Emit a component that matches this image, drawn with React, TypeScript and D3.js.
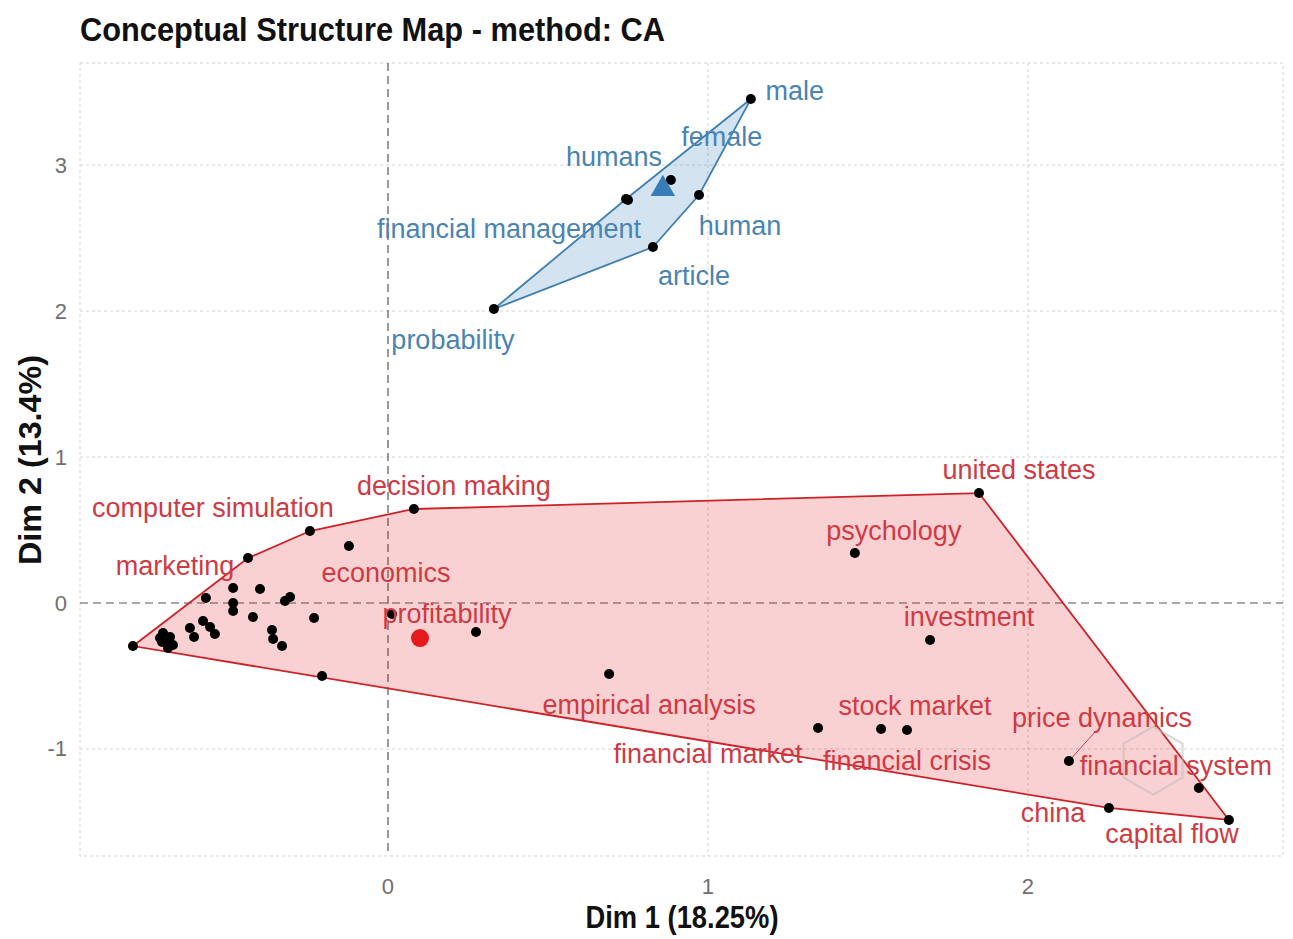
import React from "react";
import * as d3 from "d3";

// ---- data ----
const blueWords = ["male", "female", "humans", "financial management", "human", "article", "probability"];
const blueX = [1.134, 0.884, 0.744, 0.75, 0.972, 0.828, 0.331];
const blueY = [3.452, 2.897, 2.767, 2.76, 2.795, 2.438, 2.014];
const blueCentroid = [0.859, 2.836];

const redWords = [
  "united states", "psychology", "investment", "stock market", "financial crisis",
  "financial market", "empirical analysis", "price dynamics", "financial system",
  "china", "capital flow", "decision making", "computer simulation", "marketing",
  "economics", "profitability",
];
const redX = [1.847, 1.459, 1.694, 1.541, 1.622, 1.344, 0.691, 2.128, 2.534, 2.253, 2.628, 0.081, -0.244, -0.4375, -0.122, 0.0125];
const redY = [0.753, 0.342, -0.253, -0.863, -0.870, -0.856, -0.486, -1.082, -1.267, -1.404, -1.486, 0.644, 0.493, 0.308, 0.390, -0.075];

// unlabeled points of the red cluster
const redExtraX = [0.275, -0.206, -0.797, -0.484, -0.4, -0.569, -0.484, -0.484, -0.322, -0.306, -0.422, -0.231, -0.578, -0.556, -0.541, -0.619, -0.606, -0.3625, -0.359, -0.331, -0.703, -0.7125, -0.681, -0.691, -0.672, -0.6875, -0.706];
const redExtraY = [-0.199, -0.500, -0.295, 0.103, 0.096, 0.034, 0.0, -0.055, 0.014, 0.041, -0.096, -0.103, -0.123, -0.164, -0.212, -0.171, -0.233, -0.185, -0.247, -0.295, -0.205, -0.240, -0.233, -0.274, -0.288, -0.308, -0.267];
const redCentroid = [0.1, -0.24];

const xTicks = [0, 1, 2];
const yTicks = [-1, 0, 1, 2, 3];

const titleText = "Conceptual Structure Map - method: CA";
const xLabel = "Dim 1 (18.25%)";
const yLabel = "Dim 2 (13.4%)";

// label offsets in pixels (repel layout)
const blueLabelOffsets: [number, number][] = [[44, -8], [51, -43], [-12, -42], [-119, 29], [41, 31], [41, 29], [-41, 31]];
const redLabelOffsets: [number, number][] = [
  [40, -23], [39, -22], [39, -23], [34, -23], [0, 31], [-110, 26], [40, 31], [33, -43],
  [-23, -22], [-56, 5], [-57, 14], [40, -23], [-97, -23], [-73, 8], [37, 27], [55, 0],
];

const W = 1293;
const H = 939;
const panel = { left: 80, right: 1283, top: 63, bottom: 856 };

const FONT = "'Liberation Sans', Arial, Helvetica, sans-serif";

export default function App() {
  const x = d3.scaleLinear().domain([-0.9625, 2.797]).range([panel.left, panel.right]);
  const y = d3.scaleLinear().domain([-1.733, 3.699]).range([panel.bottom, panel.top]);

  const bluePts: [number, number][] = blueX.map((v, i) => [x(v), y(blueY[i])]);
  const redPts: [number, number][] = redX.map((v, i) => [x(v), y(redY[i])]);
  const redExtra: [number, number][] = redExtraX.map((v, i) => [x(v), y(redExtraY[i])]);

  const blueHull = d3.polygonHull(bluePts) || [];
  const redHull = d3.polygonHull([...redPts, ...redExtra]) || [];
  const line = d3.line();

  const blueText = "#4a84b2";
  const redText = "#cf3a44";

  const cx = redCentroid;
  const bc = blueCentroid;
  const tri = d3.symbol().type(d3.symbolTriangle).size(260)();

  // watermark hexagon
  const hexC: [number, number] = [x(2.391), y(-1.08)];
  const hexR = 34;
  const hexPts: [number, number][] = d3.range(6).map((k) => {
    const a = (Math.PI / 3) * k + Math.PI / 6;
    return [hexC[0] + hexR * Math.cos(a), hexC[1] + hexR * Math.sin(a)];
  });

  const pdIdx = redWords.indexOf("price dynamics");

  return (
    <svg width={W} height={H} style={{ position: "absolute", left: 0, top: 0, background: "#fff" }} fontFamily={FONT}>
      <rect x={0} y={0} width={W} height={H} fill="#fff" />
      {/* grid */}
      {xTicks.filter((t) => t !== 0).map((t) => (
        <line key={"gx" + t} x1={x(t)} x2={x(t)} y1={panel.top} y2={panel.bottom} stroke="#d2d2d2" strokeDasharray="3,3" />
      ))}
      {yTicks.filter((t) => t !== 0).map((t) => (
        <line key={"gy" + t} x1={panel.left} x2={panel.right} y1={y(t)} y2={y(t)} stroke="#d2d2d2" strokeDasharray="3,3" />
      ))}
      <rect x={panel.left} y={panel.top} width={panel.right - panel.left} height={panel.bottom - panel.top} fill="none" stroke="#d2d2d2" strokeDasharray="3,3" />
      {/* zero lines */}
      <line x1={x(0)} x2={x(0)} y1={panel.top} y2={panel.bottom} stroke="#555" strokeWidth={1.2} strokeDasharray="8,5" />
      <line x1={panel.left} x2={panel.right} y1={y(0)} y2={y(0)} stroke="#555" strokeWidth={1.2} strokeDasharray="8,5" />

      {/* hulls */}
      <path d={line(redHull) + "Z"} fill="#e41a1c" fillOpacity={0.2} stroke="#cc2229" strokeWidth={1.8} />
      <path d={line(blueHull) + "Z"} fill="#377eb8" fillOpacity={0.22} stroke="#3f7fb0" strokeWidth={1.8} />

      {/* watermark */}
      <path d={line(hexPts) + "Z"} fill="none" stroke="#bdbdbd" strokeOpacity={0.6} strokeWidth={2} />

      {/* segments */}
      <line x1={redPts[pdIdx][0]} y1={redPts[pdIdx][1]} x2={redPts[pdIdx][0] + 27} y2={redPts[pdIdx][1] - 30} stroke={redText} strokeWidth={1} />

      {/* points */}
      {redExtra.map((p, i) => (
        <circle key={"re" + i} cx={p[0]} cy={p[1]} r={5} fill="#000" />
      ))}
      {redPts.map((p, i) => (
        <circle key={"rp" + i} cx={p[0]} cy={p[1]} r={5} fill="#000" />
      ))}
      {bluePts.map((p, i) => (
        <circle key={"bp" + i} cx={p[0]} cy={p[1]} r={5} fill="#000" />
      ))}
      <circle cx={x(cx[0])} cy={y(cx[1])} r={9} fill="#e41a1c" />
      <path d={tri || ""} transform={`translate(${x(bc[0])},${y(bc[1])})`} fill="#377eb8" />

      {/* labels */}
      {redWords.map((w, i) => (
        <text key={"rl" + i} x={redPts[i][0] + redLabelOffsets[i][0]} y={redPts[i][1] + redLabelOffsets[i][1]}
          textAnchor="middle" dominantBaseline="central" fontSize={27} fill={redText}>{w}</text>
      ))}
      {blueWords.map((w, i) => (
        <text key={"bl" + i} x={bluePts[i][0] + blueLabelOffsets[i][0]} y={bluePts[i][1] + blueLabelOffsets[i][1]}
          textAnchor="middle" dominantBaseline="central" fontSize={27} fill={blueText}>{w}</text>
      ))}

      {/* ticks */}
      {xTicks.map((t) => (
        <text key={"xt" + t} x={x(t)} y={894} textAnchor="middle" fontSize={22} fill="#707070">{t}</text>
      ))}
      {yTicks.map((t) => (
        <text key={"yt" + t} x={67} y={y(t)} textAnchor="end" dominantBaseline="central" fontSize={22} fill="#707070">{t}</text>
      ))}

      {/* titles */}
      <text x={80} y={41} fontSize={33} fontWeight="bold" fill="#111" textLength={585} lengthAdjust="spacingAndGlyphs">{titleText}</text>
      <text x={682} y={928} textAnchor="middle" fontSize={31} fontWeight="bold" fill="#111" textLength={193} lengthAdjust="spacingAndGlyphs">{xLabel}</text>
      <text transform={`translate(41,460) rotate(-90)`} textAnchor="middle" fontSize={31} fontWeight="bold" fill="#111" textLength={210} lengthAdjust="spacingAndGlyphs">{yLabel}</text>
    </svg>
  );
}
